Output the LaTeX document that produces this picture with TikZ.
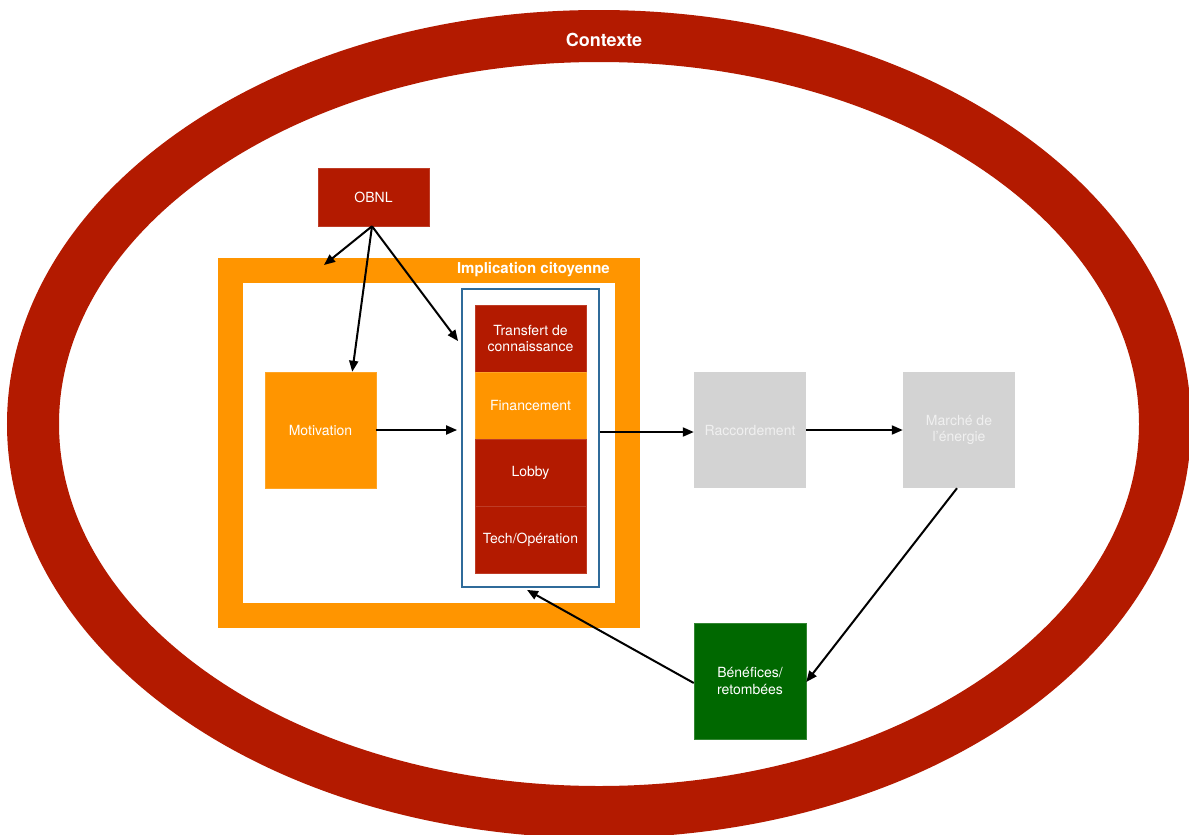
\documentclass[tikz,border=0pt]{standalone}
\usepackage{fontspec}
\setmainfont{TeX Gyre Heros}
\usetikzlibrary{arrows.meta}
\definecolor{ctxred}{RGB}{179,26,0}
\definecolor{implorange}{RGB}{255,149,0}
\definecolor{boxgray}{RGB}{211,211,211}
\definecolor{graytext}{RGB}{240,240,240}
\definecolor{benefgreen}{RGB}{0,104,0}
\definecolor{stackblue}{RGB}{47,107,154}
\tikzset{
  basebox/.style={rectangle, inner sep=0pt, align=center, text=white,
    font=\fontsize{14}{16.5}\selectfont},
  redbox/.style={basebox, fill=ctxred, draw=ctxred!85!white, line width=0.5pt},
  orangebox/.style={basebox, fill=implorange, draw=implorange!85!white, line width=0.5pt},
  graybox/.style={basebox, fill=boxgray, text=graytext},
  greenbox/.style={basebox, fill=benefgreen, draw=benefgreen!80!white, line width=0.5pt},
  conn/.style={draw=black, line width=2pt, -{Triangle[length=11pt,width=9pt]}},
}
\begin{document}
\begin{tikzpicture}[x=1pt,y=-1pt]
\useasboundingbox (0,0) rectangle (1189,835);
\fill[white] (0,0) rectangle (1189,835);
% context ring
\draw[ctxred, line width=52pt] (599,424) ellipse [x radius=566pt, y radius=388pt];
\node[font=\bfseries\fontsize{18}{20}\selectfont, text=white] (ctx) at (604,40) {Contexte};
% implication frame
\node[rectangle, draw=implorange, line width=25pt, minimum width=397pt, minimum height=345pt, inner sep=0pt] (impl) at (429,443) {};
\node[anchor=east, font=\bfseries\fontsize{15}{17}\selectfont, text=white, inner sep=0pt] (impltxt) at (610,270) {Implication citoyenne};
% blue stack frame
\node[rectangle, draw=stackblue, line width=1.8pt, fill=white, minimum width=137pt, minimum height=298pt, inner sep=0pt] (stackbox) at (530.5,438) {};
\node[redbox, minimum width=111pt, minimum height=67pt] (transfert) at (530.5,338.5) {Transfert de\\connaissance};
\node[orangebox, minimum width=111pt, minimum height=67pt] (finance) at (530.5,405.5) {Financement};
\node[redbox, minimum width=111pt, minimum height=67pt] (lobby) at (530.5,472.5) {Lobby};
\node[redbox, minimum width=111pt, minimum height=67pt] (tech) at (530.5,539.5) {Tech/Opération};
% other boxes
\node[redbox, minimum width=111pt, minimum height=58pt] (obnl) at (373.5,197) {OBNL};
\node[orangebox, minimum width=111pt, minimum height=116pt] (motiv) at (320.5,430) {Motivation};
\node[graybox, minimum width=112pt, minimum height=116pt] (racc) at (750,430) {Raccordement};
\node[graybox, minimum width=112pt, minimum height=116pt] (march) at (959,430) {Marché de\\l’énergie};
\node[greenbox, minimum width=112pt, minimum height=116pt] (benef) at (750,681) {Bénéfices/\\retombées};
\coordinate (implin) at (324,265);
% connectors
\draw[conn] ([xshift=-1.5pt]obnl.south) -- (implin);
\draw[conn] ([xshift=-1.5pt]obnl.south) -- ([xshift=-24pt]motiv.north east);
\draw[conn] ([xshift=-1.5pt]obnl.south) -- ([xshift=-3pt,yshift=-53pt]stackbox.north west);
\draw[conn] (motiv.east) -- ([xshift=-4pt]motiv.east -| stackbox.west);
\draw[conn] ([yshift=-2pt]racc.west -| stackbox.east) -- ([yshift=-2pt]racc.west);
\draw[conn] (racc.east) -- (march.west);
\draw[conn] ([xshift=-2pt]march.south) -- ([yshift=-1pt]benef.east);
\draw[conn] ([yshift=-2pt]benef.west) -- ([xshift=-3.5pt,yshift=-2pt]stackbox.south);
\end{tikzpicture}
\end{document}
